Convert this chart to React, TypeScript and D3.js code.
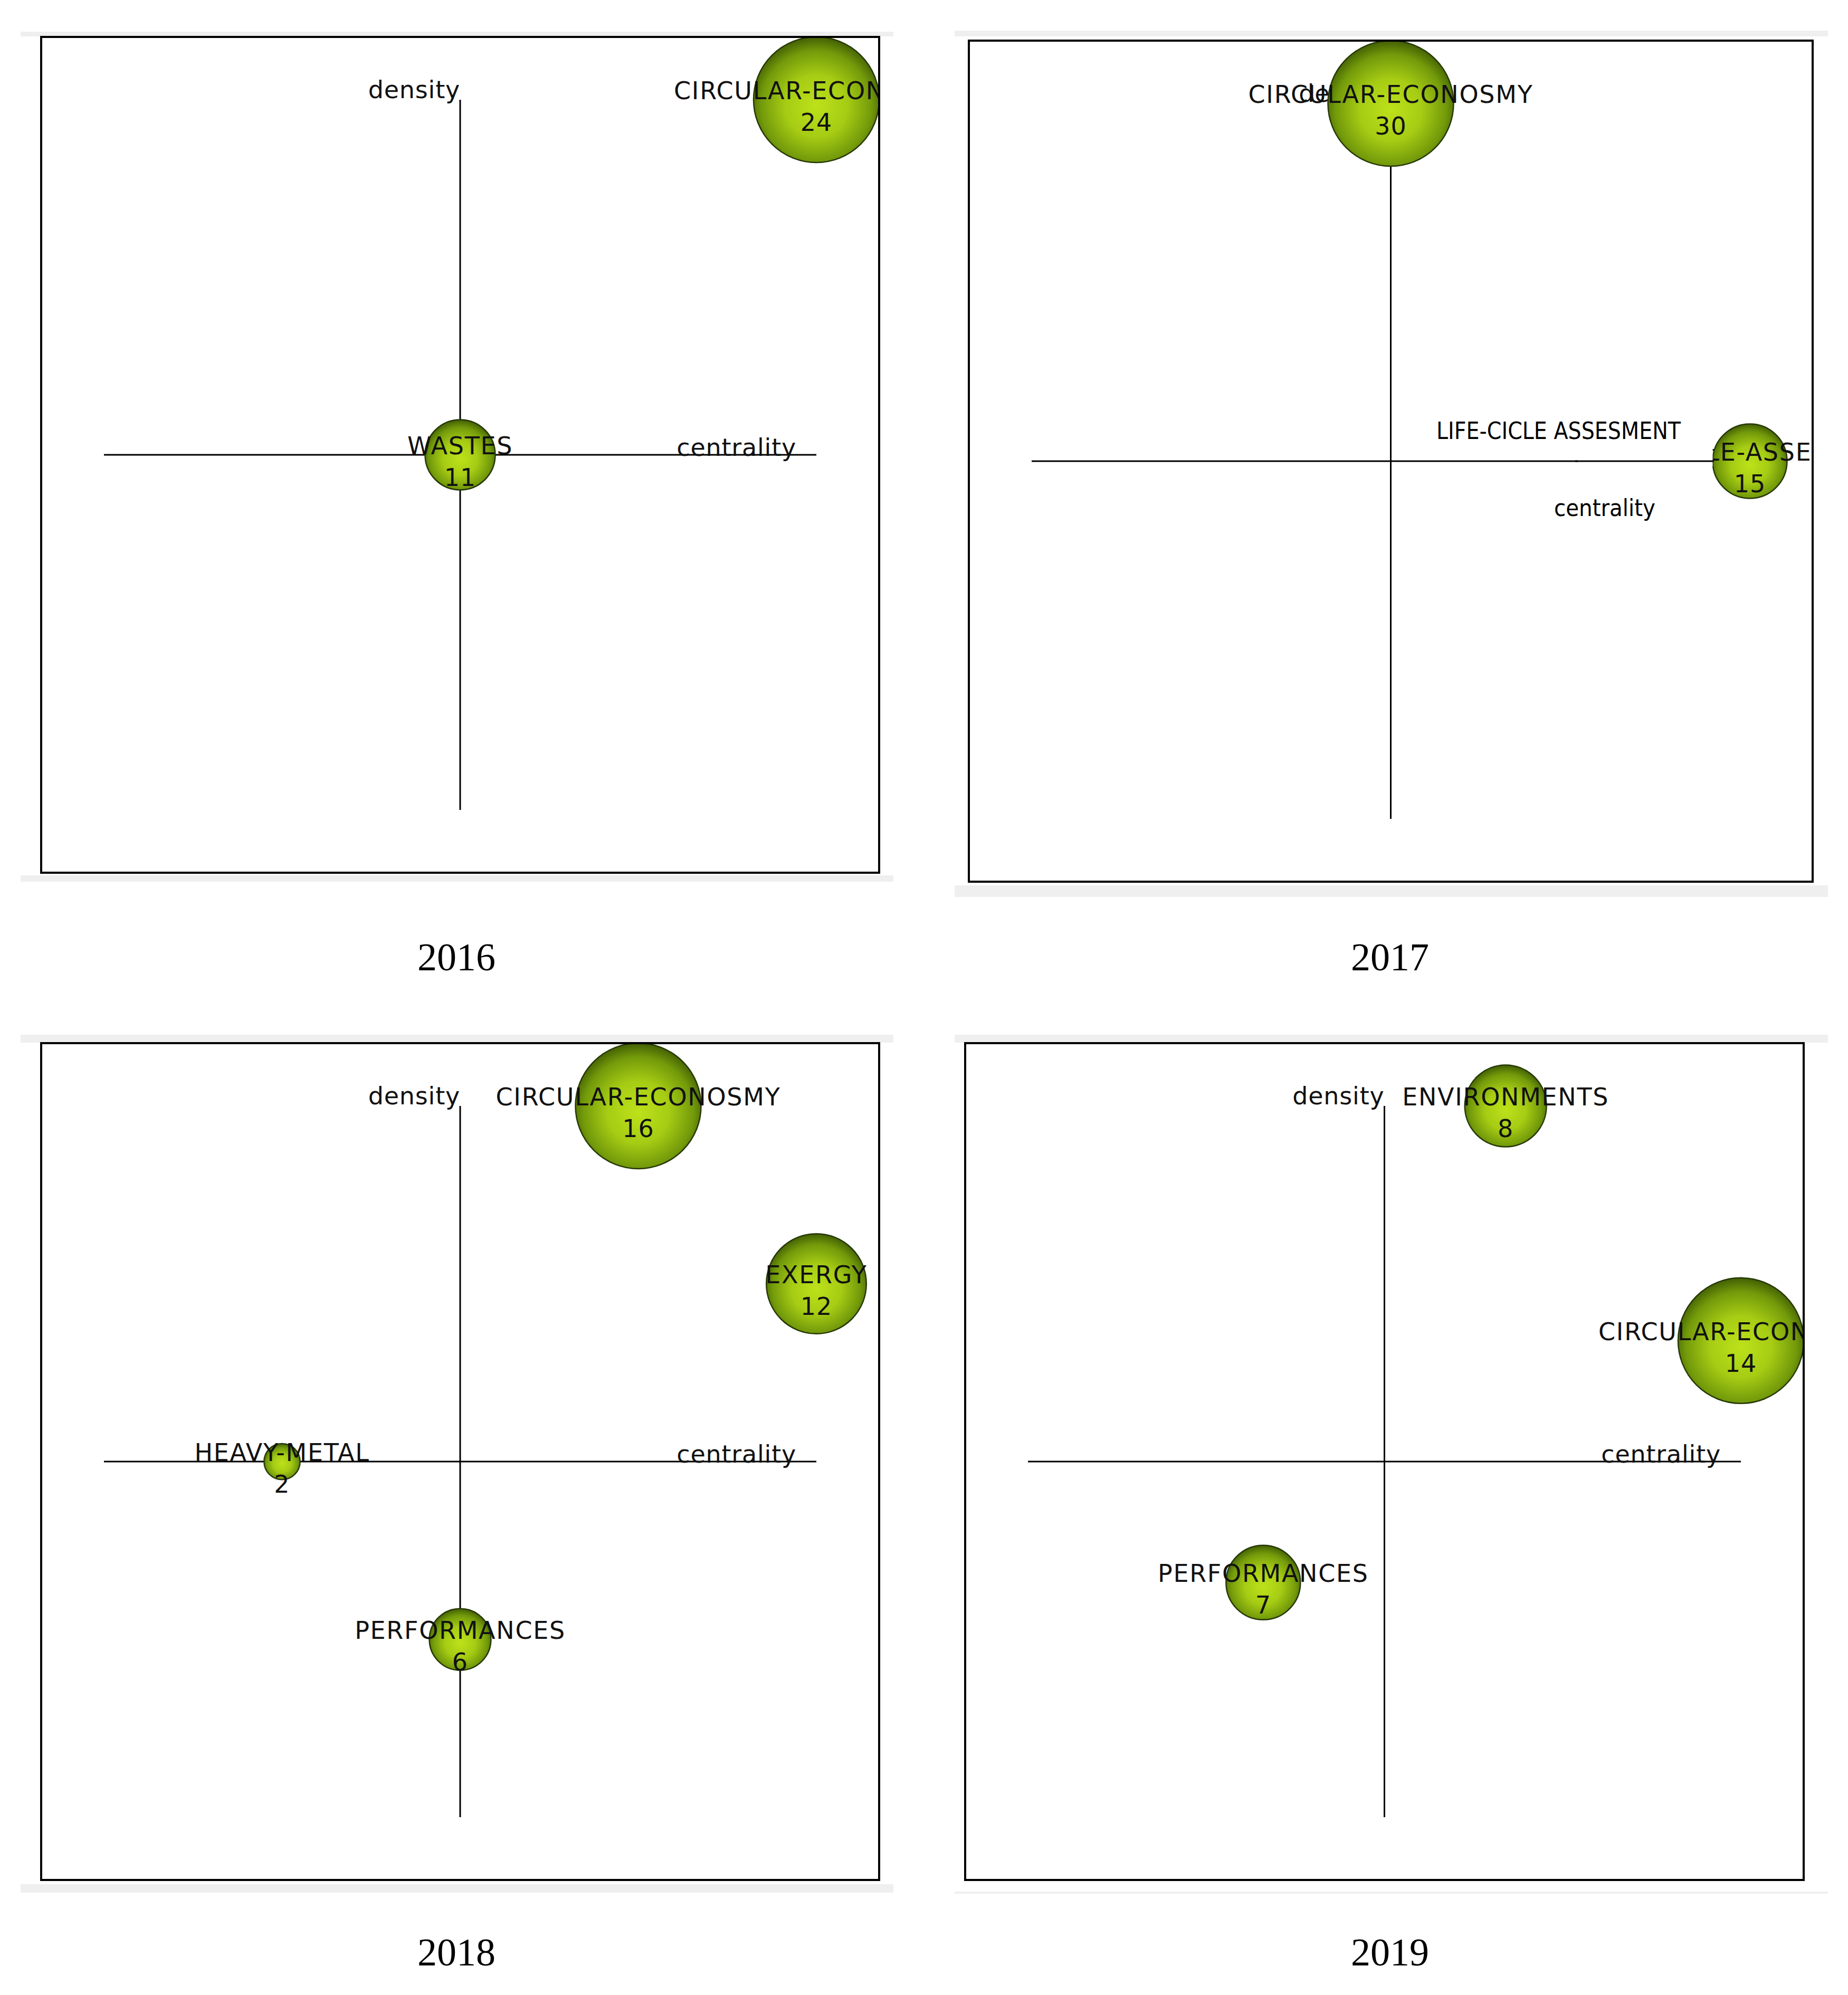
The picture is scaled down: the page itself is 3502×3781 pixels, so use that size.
import React from 'react';
import * as d3 from 'd3';

// strategic diagrams, one per year (centrality / density as rank in 0..1, docs = bubble size)
const years = [2016, 2017, 2018, 2019];

const themes2016 = [
  { name: 'CIRCULAR-ECONOSMY', docs: 24, centrality: 1, density: 1 },
  { name: 'WASTES', docs: 11, centrality: 0.5, density: 0.5 },
];
const themes2017 = [
  { name: 'CIRCULAR-ECONOSMY', docs: 30, centrality: 0.5, density: 1 },
  { name: 'LIFE-CICLE-ASSESMENT', docs: 15, centrality: 1, density: 0.5 },
];
const themes2018 = [
  { name: 'CIRCULAR-ECONOSMY', docs: 16, centrality: 0.75, density: 1 },
  { name: 'EXERGY', docs: 12, centrality: 1, density: 0.75 },
  { name: 'HEAVY-METAL', docs: 2, centrality: 0.25, density: 0.5 },
  { name: 'PERFORMANCES', docs: 6, centrality: 0.5, density: 0.25 },
];
const themes2019 = [
  { name: 'ENVIRONMENTS', docs: 8, centrality: 0.67, density: 1 },
  { name: 'CIRCULAR-ECONOSMY', docs: 14, centrality: 1, density: 0.67 },
  { name: 'PERFORMANCES', docs: 7, centrality: 0.33, density: 0.33 },
];
const themesByYear = [themes2016, themes2017, themes2018, themes2019];

const axisLabels = { x: 'centrality', y: 'density' };
// hand written notes pasted over the 2017 diagram
const notes2017 = ['LIFE-CICLE ASSESMENT', 'centrality'];

// page layout (x, y, w, h)
const panels = [
  { box: [78, 70, 1588, 1584], top: [39, 60, 1654, 9], bottom: [39, 1659, 1654, 12], label: [865, 1839] },
  { box: [1836, 77, 1599, 1594], top: [1809, 58, 1655, 11], bottom: [1809, 1678, 1655, 22], label: [2634, 1839] },
  { box: [78, 1977, 1588, 1586], top: [39, 1961, 1654, 15], bottom: [39, 3571, 1654, 16], label: [865, 3725] },
  { box: [1829, 1977, 1589, 1586], top: [1809, 1961, 1655, 15], bottom: [1809, 3585, 1655, 4], label: [2634, 3725] },
];

const W = 3502;
const H = 3781;
const FONT = '"DejaVu Sans", Verdana, sans-serif';
const NARROW = '"Liberation Sans Narrow", "DejaVu Sans Condensed", Roboto, sans-serif';
const FS = 46;

function Diagram({ idx }) {
  const p = panels[idx];
  const themes = themesByYear[idx];
  const [bx, by, bw, bh] = p.box;
  const m = 119;
  const x = d3.scaleLinear().domain([0, 1]).range([bx + m, bx + bw - m]);
  const y = d3.scaleLinear().domain([0, 1]).range([by + bh - m, by + m]);
  const maxDocs = d3.max(themes, (d) => d.docs);
  const r = d3.scaleLinear().domain([0, maxDocs]).range([22, m]);
  const clipId = 'clip' + idx;
  const cx = x(0.5);
  const cy = y(0.5);

  let patch = null;
  let notes = null;
  if (years[idx] === 2017) {
    const t = themes[1];
    const left = x(t.centrality) - r(t.docs);
    // white-out over the original label, the axis line is put back on top
    patch = (
      <g>
        <rect x={2990} y={826} width={left - 2990} height={cy + 10 - 826} fill="#fff" />
        <line x1={2985} x2={left + 2} y1={cy} y2={cy} stroke="#000" strokeWidth={3} />
      </g>
    );
    notes = (
      <g fontFamily={NARROW} fontSize={44} fill="#000">
        <text x={2722} y={832} textLength={463} lengthAdjust="spacingAndGlyphs">{notes2017[0]}</text>
        <text x={2945} y={978} textLength={192} lengthAdjust="spacingAndGlyphs">{notes2017[1]}</text>
      </g>
    );
  }

  return (
    <g>
      <rect x={p.top[0]} y={p.top[1]} width={p.top[2]} height={p.top[3]} fill="#efefef" />
      <rect x={p.bottom[0]} y={p.bottom[1]} width={p.bottom[2]} height={p.bottom[3]} fill="#efefef" />
      <clipPath id={clipId}>
        <rect x={bx} y={by} width={bw} height={bh} />
      </clipPath>
      <g clipPath={`url(#${clipId})`}>
        <line x1={cx} x2={cx} y1={y(1)} y2={y(0)} stroke="#000" strokeWidth={3} />
        <line x1={x(0)} x2={x(1)} y1={cy} y2={cy} stroke="#000" strokeWidth={3} />
        <g fontFamily={FONT} fontSize={FS} fill="#111" letterSpacing={0.8}>
          <text x={cx} y={y(1) - 3} textAnchor="end">{axisLabels.y}</text>
          <text x={x(1) - 38} y={cy + 2} textAnchor="end">{axisLabels.x}</text>
        </g>
        {themes.map((d) => (
          <circle key={d.name} cx={x(d.centrality)} cy={y(d.density)} r={r(d.docs)}
            fill="url(#ball)" stroke="#263805" strokeWidth={2.5} />
        ))}
        <g fontFamily={FONT} fontSize={FS} fill="#111" textAnchor="middle">
          {themes.map((d) => (
            <g key={d.name}>
              <text x={x(d.centrality)} y={y(d.density) - 1} letterSpacing={1.7}>{d.name}</text>
              <text x={x(d.centrality)} y={y(d.density) + 59} letterSpacing={1}>{d.docs}</text>
            </g>
          ))}
        </g>
        {patch}
      </g>
      <rect x={bx} y={by} width={bw} height={bh} fill="none" stroke="#000" strokeWidth={4} />
      {notes}
      <text x={p.label[0]} y={p.label[1]} textAnchor="middle" fontFamily='"Liberation Serif", "DejaVu Serif", serif'
        fontSize={74} fill="#000">{years[idx]}</text>
    </g>
  );
}

export default function App() {
  return (
    <svg width={W} height={H} style={{ position: 'absolute', left: 0, top: 0, background: '#fff' }}>
      <defs>
        <radialGradient id="ball" cx="50%" cy="55%" r="55%">
          <stop offset="0%" stopColor="#bde21a" />
          <stop offset="45%" stopColor="#a6cc14" />
          <stop offset="80%" stopColor="#739a0a" />
          <stop offset="100%" stopColor="#425f04" />
        </radialGradient>
      </defs>
      <rect width={W} height={H} fill="#fff" />
      {years.map((yr, i) => <Diagram key={yr} idx={i} />)}
    </svg>
  );
}
